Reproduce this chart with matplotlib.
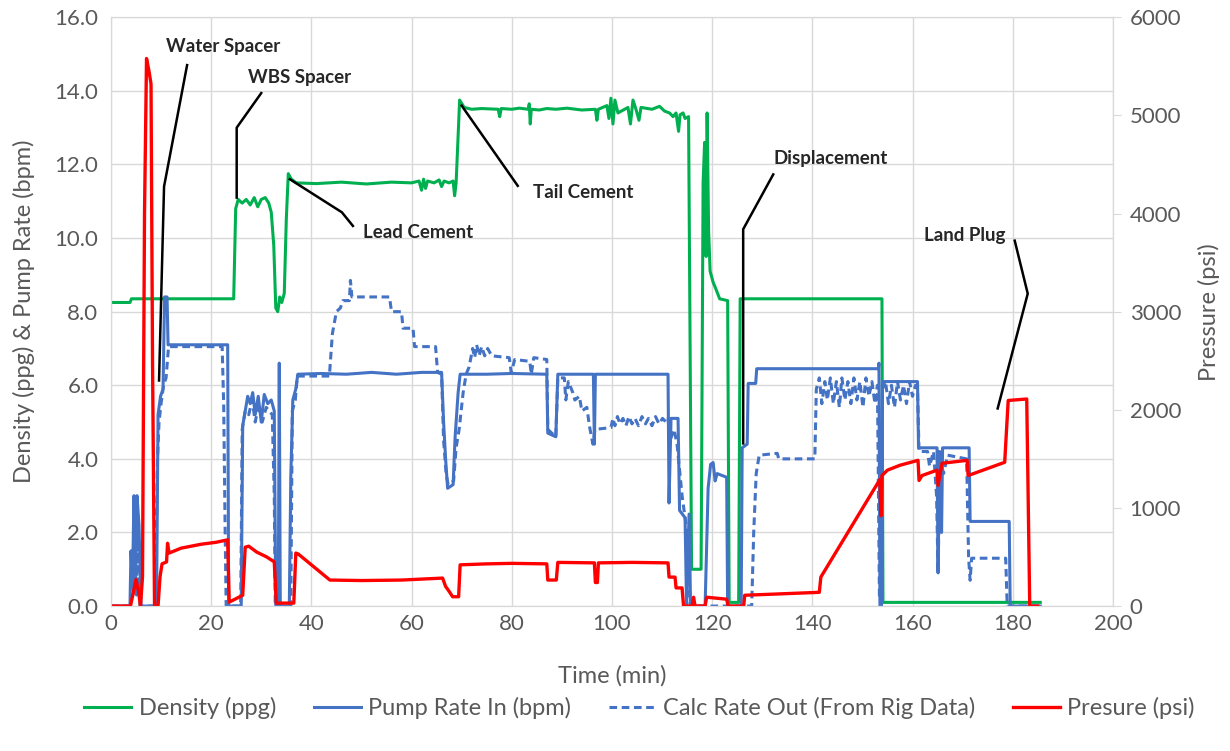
import matplotlib.pyplot as plt

# Cementing job log: density, pump rates and pressure vs time
density_t = [0, 3.8, 4.1, 24.5, 24.9, 25.4, 26.2, 27.0, 27.8, 28.6,
             29.3, 30.0, 30.8, 31.5, 32.0, 32.5, 32.9, 33.3, 33.7, 34.1,
             34.6, 35.0, 35.4, 36.0, 37.0, 41.0, 46.0, 51.0, 56.0, 60.0,
             61.5, 62.0, 62.4, 62.8, 63.2, 64.5, 65.5, 66.0, 66.5, 67.5,
             68.3, 68.6, 68.9, 69.6, 70.5, 72.0, 74.0, 77.3, 77.6, 77.9,
             80.0, 81.5, 83.3, 83.5, 83.7, 83.9, 85.5, 87.0, 88.8, 91.0,
             94.0, 96.7, 97.0, 97.3, 99.0, 99.4, 99.8, 100.2, 100.6, 101.2,
             103.2, 103.7, 104.2, 104.8, 105.4, 105.8, 108.0, 109.5, 110.5, 111.5,
             112.2, 112.8, 113.3, 113.6, 114.2, 114.6, 115.3, 115.9, 117.8, 118.2,
             118.5, 118.8, 119.0, 119.3, 119.6, 120.2, 120.8, 121.5, 123.1, 123.4,
             125.3, 125.6, 153.9, 154.1, 185.5]
density_ppg = [8.25, 8.25, 8.35, 8.35, 10.8, 11.05, 10.95, 11.05, 10.9, 11.1,
               10.85, 11.05, 11.1, 10.95, 10.7, 9.8, 8.1, 8.0, 8.4, 8.25,
               8.5, 10.5, 11.75, 11.6, 11.5, 11.48, 11.52, 11.47, 11.52, 11.5,
               11.55, 11.3, 11.6, 11.35, 11.55, 11.5, 11.58, 11.4, 11.55, 11.5,
               11.55, 11.15, 11.5, 13.75, 13.55, 13.5, 13.52, 13.5, 13.3, 13.52,
               13.5, 13.53, 13.5, 13.65, 13.1, 13.5, 13.48, 13.52, 13.5, 13.53,
               13.48, 13.5, 13.2, 13.5, 13.6, 13.25, 13.8, 13.1, 13.75, 13.4,
               13.55, 13.1, 13.75, 13.5, 13.2, 13.55, 13.5, 13.58, 13.45, 13.4,
               13.3, 13.4, 12.9, 13.35, 13.4, 13.25, 13.3, 1.0, 1.0, 11.5,
               12.6, 9.5, 13.4, 10.2, 9.1, 8.8, 8.6, 8.35, 8.3, 0.1,
               0.1, 8.35, 8.35, 0.1, 0.1]

pump_t = [0, 3.8, 4.0, 4.3, 4.6, 4.9, 5.2, 5.6, 6.0, 9.1,
          9.4, 9.9, 10.4, 10.7, 11.2, 11.4, 23.3, 23.5, 26.0, 26.3,
          26.8, 27.3, 27.8, 28.3, 28.8, 29.4, 30.0, 30.6, 31.3, 32.0,
          32.6, 32.9, 33.4, 33.6, 33.8, 35.6, 35.9, 36.3, 36.9, 37.3,
          42.0, 47.0, 52.0, 57.0, 62.0, 66.0, 66.4, 66.8, 67.2, 68.3,
          68.7, 69.3, 69.7, 75.0, 80.0, 87.0, 87.2, 88.8, 89.2, 96.3,
          96.5, 96.7, 111.2, 111.4, 111.8, 113.2, 113.5, 114.6, 114.9, 115.4,
          115.7, 118.6, 119.2, 119.7, 120.2, 120.6, 121.0, 122.9, 123.1, 125.8,
          126.0, 127.0, 127.2, 128.7, 128.9, 141.0, 147.0, 153.2, 153.3, 153.5,
          153.8, 154.0, 161.0, 161.2, 164.9, 165.1, 165.4, 165.8, 166.0, 171.3,
          171.5, 179.3, 179.5, 185.5]
pump_in = [0, 0, 1.5, 0.6, 3.0, 0.4, 3.0, 2.2, 0, 0,
           5.2, 5.7, 5.9, 8.4, 8.4, 7.1, 7.1, 0, 0, 4.9,
           5.3, 5.7, 5.5, 5.8, 5.2, 5.7, 5.0, 5.75, 5.5, 5.6,
           5.3, 0, 0, 6.6, 0, 0, 3.5, 5.6, 5.9, 6.3,
           6.32, 6.3, 6.35, 6.3, 6.35, 6.35, 5.0, 4.0, 3.2, 3.3,
           4.6, 5.8, 6.3, 6.3, 6.32, 6.3, 4.7, 4.6, 6.3, 6.3,
           4.4, 6.3, 6.3, 2.8, 5.1, 5.1, 2.6, 2.4, 0, 2.5,
           0, 0, 3.2, 3.85, 3.9, 3.4, 3.6, 3.5, 0, 0,
           4.3, 4.4, 6.05, 6.05, 6.45, 6.45, 6.45, 6.45, 6.6, 0,
           0, 6.1, 6.1, 4.3, 4.3, 0.9, 4.2, 2.0, 4.3, 4.3,
           2.3, 2.3, 0, 0]

calc_t = [0, 4.0, 4.2, 4.5, 4.8, 5.1, 5.4, 5.8, 8.8, 9.3,
          9.6, 10.0, 10.5, 11.0, 11.5, 22.2, 22.5, 22.8, 23.0, 25.9,
          26.2, 26.8, 27.5, 28.2, 28.8, 29.5, 30.2, 31.0, 32.2, 32.6,
          32.8, 35.9, 36.2, 36.8, 37.2, 43.6, 44.2, 45.0, 45.8, 46.3,
          47.6, 47.8, 48.1, 55.6, 56.0, 58.0, 58.3, 60.3, 60.6, 64.8,
          65.2, 66.0, 66.4, 66.9, 67.3, 68.4, 68.9, 69.5, 70.3, 70.9,
          71.5, 72.2, 72.6, 73.0, 73.5, 74.0, 74.6, 75.2, 76.0, 79.5,
          79.9, 80.6, 83.6, 83.9, 84.4, 87.0, 87.2, 88.8, 89.2, 90.5,
          90.8, 91.3, 92.2, 92.6, 93.5, 94.0, 95.0, 95.5, 96.2, 96.6,
          99.8, 100.2, 100.6, 101.1, 101.6, 102.2, 102.8, 103.4, 104.0, 104.6,
          105.3, 106.0, 106.7, 107.3, 108.0, 108.7, 109.4, 110.1, 110.8, 111.2,
          111.6, 112.4, 113.0, 114.0, 115.0, 115.6, 127.9, 128.3, 128.8, 129.4,
          133.0, 133.3, 140.5, 140.8, 141.4, 141.9, 142.5, 143.0, 143.6, 144.2,
          144.8, 145.4, 145.9, 146.5, 147.1, 147.7, 148.3, 148.9, 149.5, 150.1,
          150.7, 151.3, 151.9, 152.5, 153.0, 153.4, 153.7, 154.0, 154.6, 155.2,
          155.8, 156.4, 157.0, 157.6, 158.2, 158.8, 159.4, 160.0, 160.6, 161.0,
          161.3, 163.0, 163.4, 164.2, 164.8, 165.1, 165.5, 166.2, 167.0, 170.8,
          171.2, 171.5, 171.8, 178.6, 178.9, 185.5]
calc_out = [0, 0, 1.2, 0.3, 2.2, 0.3, 1.8, 0, 0, 4.0,
            5.0, 5.5, 6.0, 6.2, 7.05, 7.05, 5.5, 2.0, 0, 0,
            4.8, 5.3, 5.2, 5.6, 5.0, 5.5, 5.0, 5.4, 5.2, 3.0,
            0, 0, 5.3, 5.6, 6.25, 6.25, 7.4, 8.0, 8.1, 8.3,
            8.3, 8.85, 8.4, 8.4, 8.0, 8.0, 7.55, 7.55, 7.05, 7.05,
            6.35, 6.3, 4.5, 3.6, 3.3, 3.4, 4.3, 4.8, 5.8, 6.3,
            6.5, 7.0, 6.75, 7.1, 6.8, 7.05, 6.8, 7.0, 6.8, 6.75,
            6.35, 6.7, 6.65, 6.3, 6.75, 6.7, 4.8, 4.6, 6.2, 6.2,
            5.6, 6.1, 5.8, 5.6, 5.7, 5.3, 5.4, 4.9, 4.4, 4.8,
            4.85, 5.1, 4.9, 5.15, 4.95, 5.1, 4.9, 5.15, 4.95, 5.1,
            4.9, 5.15, 4.95, 5.1, 4.9, 5.15, 4.95, 5.1, 5.0, 5.1,
            4.5, 4.8, 4.4, 3.0, 2.0, 0, 0, 2.0, 3.6, 4.1,
            4.15, 4.0, 4.0, 5.9, 6.2, 5.5, 6.1, 5.6, 6.2, 5.5,
            6.1, 5.4, 6.2, 5.6, 6.1, 5.5, 6.2, 5.6, 6.1, 5.4,
            6.2, 5.7, 6.1, 5.5, 6.0, 0.2, 0.2, 5.9, 6.1, 5.5,
            6.0, 5.4, 6.1, 5.6, 6.0, 5.5, 6.1, 5.7, 6.0, 5.9,
            4.2, 4.2, 3.8, 4.2, 3.0, 0.9, 4.0, 3.6, 4.1, 4.0,
            1.3, 0.7, 1.3, 1.3, 0, 0]

press_t = [0, 3.9, 4.4, 5.0, 5.5, 5.9, 6.3, 6.7, 7.1, 7.6,
           8.0, 8.3, 8.7, 9.4, 9.8, 10.2, 11.1, 11.3, 11.6, 14.0,
           18.0, 21.0, 23.3, 23.6, 26.3, 26.8, 27.5, 29.1, 31.1, 32.6,
           33.0, 36.5, 36.9, 37.4, 43.7, 50.0, 58.0, 66.2, 66.8, 67.5,
           68.2, 69.4, 69.7, 75.0, 80.0, 87.0, 87.2, 88.9, 89.2, 96.5,
           96.7, 97.1, 97.3, 104.0, 111.2, 111.4, 112.6, 112.8, 114.0, 114.3,
           116.0, 116.3, 116.6, 118.6, 118.9, 122.9, 123.2, 126.3, 126.5, 134.0,
           141.4, 141.7, 153.5, 153.7, 153.9, 155.0, 157.5, 161.1, 161.3, 161.9,
           164.9, 165.1, 165.9, 170.9, 171.1, 178.4, 179.1, 182.8, 183.4, 185.0]
press_psi = [0, 0, 120, 270, 150, 0, 300, 4000, 5580, 5450,
             5320, 2500, 0, 0, 300, 430, 450, 640, 540, 590,
             630, 650, 675, 40, 110, 600, 610, 550, 500, 450,
             30, 30, 540, 530, 265, 260, 265, 285, 200, 150,
             95, 95, 420, 430, 435, 430, 265, 265, 445, 440,
             240, 240, 440, 445, 440, 295, 295, 185, 185, 0,
             0, 90, 0, 0, 90, 70, 0, 0, 110, 125,
             140, 295, 1290, 920, 1330, 1385, 1435, 1485, 1280, 1330,
             1385, 1230, 1455, 1485, 1330, 1465, 2095, 2110, 0, 0]

# stage callouts: label, text anchor, leader line (time, left-axis units)
callouts = [
    ("Water Spacer", (11.0, 15.2), [(15.2, 14.7), (10.6, 11.4), (9.6, 6.13)]),
    ("WBS Spacer", (27.3, 14.35), [(30.0, 13.94), (25.1, 13.0), (25.1, 11.1)]),
    ("Lead Cement", (50.3, 10.15), [(48.3, 10.33), (46.1, 10.7), (35.7, 11.6)]),
    ("Tail Cement", (84.2, 11.23), [(81.2, 11.42), (70.0, 13.6)]),
    ("Displacement", (132.3, 12.15), [(132.2, 11.73), (126.2, 10.24), (126.2, 4.42)]),
    ("Land Plug", (162.3, 10.06), [(180.4, 9.93), (183.0, 8.49), (177.0, 5.37)]),
]

plt.rcParams['font.family'] = ['Lato', 'DejaVu Sans']
txt = '#595959'
grid_c = '#d9d9d9'

fig = plt.figure(figsize=(12.3, 7.51), dpi=100)
ax = fig.add_axes([0.0902, 0.193, 0.8146, 0.784])
ax2 = ax.twinx()

l1, = ax.plot(density_t, density_ppg, color='#00b050', lw=2.2, label='Density (ppg)')
l2, = ax.plot(pump_t, pump_in, color='#4472c4', lw=2.2, label='Pump Rate In (bpm)')
l3, = ax.plot(calc_t, calc_out, color='#4472c4', lw=2.2, ls=(0, (2.5, 1.5)),
              label='Calc Rate Out (From Rig Data)')
l4, = ax2.plot(press_t, press_psi, color='#ff0000', lw=2.4, label='Presure (psi)')

ax.set_xlim(0, 200)
ax.set_ylim(0, 16)
ax2.set_ylim(0, 6000)
ax.set_xticks(range(0, 201, 20))
ax.set_yticks(range(0, 17, 2))
ax.set_yticklabels([f'{v:.1f}' for v in range(0, 17, 2)])
ax2.set_yticks(range(0, 6001, 1000))

ax.grid(True, color=grid_c, lw=1.0)
ax.set_axisbelow(True)
for a in (ax, ax2):
    for s in a.spines.values():
        s.set_color(grid_c)
ax.tick_params(axis='both', length=0, labelsize=16, labelcolor=txt)
ax.tick_params(axis='y', pad=9)
ax.tick_params(axis='x', pad=6)
ax2.tick_params(axis='y', length=6, color=grid_c, labelsize=16, labelcolor=txt, pad=6)

ax.set_xlabel('Time (min)', fontsize=17, color=txt, labelpad=22)
ax.set_ylabel('Density (ppg) & Pump Rate (bpm)', fontsize=17, color=txt, labelpad=14)
ax2.set_ylabel('Pressure (psi)', fontsize=17, color=txt, labelpad=12)

# callout leaders and labels, drawn in left-axis units on top of every series
for label, (tx, ty), path in callouts:
    xs = [p[0] for p in path]
    ys = [p[1] for p in path]
    ax2.plot(xs, ys, color='black', lw=1.8, transform=ax.transData)
    ax2.text(tx, ty, label, fontsize=13.5, fontweight='bold', color='#262626',
             ha='left', va='center', transform=ax.transData)

fig.legend(handles=[l1, l2, l3, l4], loc='center', bbox_to_anchor=(0.52, 0.057),
           ncol=4, frameon=False, fontsize=17, handlelength=2.0,
           handletextpad=0.3, columnspacing=1.6, labelcolor=txt)

fig.savefig('out.png', dpi=100)
